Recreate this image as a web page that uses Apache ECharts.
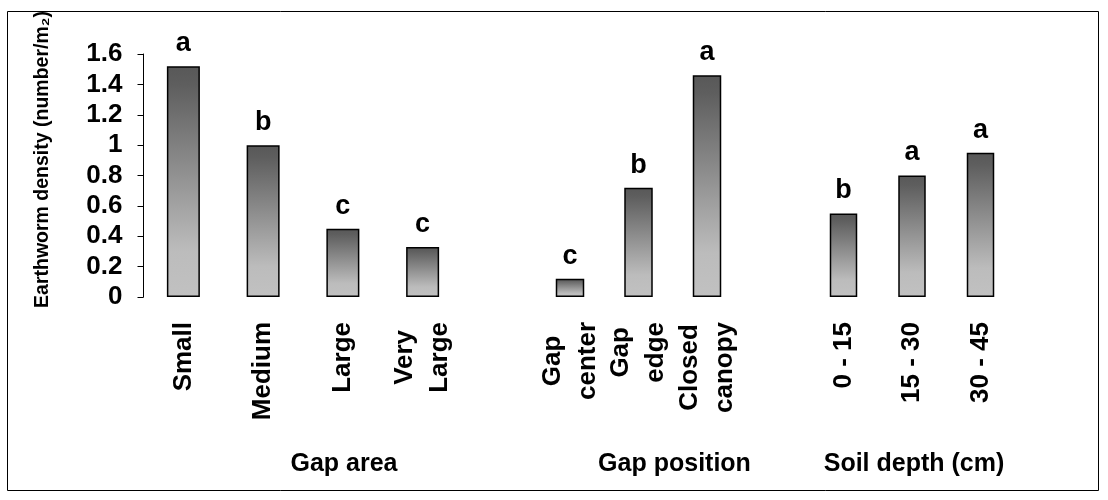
<!DOCTYPE html>
<html><head><meta charset="utf-8">
<script src="https://cdn.jsdelivr.net/npm/echarts@6/dist/echarts.min.js"></script>
<style>html,body{margin:0;padding:0;background:#fff}#c{width:1108px;height:500px}</style>
</head><body><div id="c"></div>
<script>
// ---- data ----
const areaCats = ['Small', 'Medium', 'Large', 'Very\nLarge'];
const areaVals = [1.52, 1.00, 0.45, 0.33];
const areaSig = ['a', 'b', 'c', 'c'];
const posCats = ['Gap\ncenter', 'Gap\nedge', 'Closed\ncanopy'];
const posVals = [0.12, 0.72, 1.46];
const posSig = ['c', 'b', 'a'];
const depthCats = ['0 - 15', '15 - 30', '30 - 45'];
const depthVals = [0.55, 0.80, 0.95];
const depthSig = ['b', 'a', 'a'];
const groupTitles = ['Gap area', 'Gap position', 'Soil depth (cm)'];
const yTitle = 'Earthworm density (number/m\u2082)';
const yMin = 0, yMax = 1.6, yStep = 0.2;

// ---- chart ----
const FONT = '"Liberation Sans", Arial, sans-serif';
const chart = echarts.init(document.getElementById('c'), null, {renderer: 'canvas'});
const groups = [
  {cats: areaCats, vals: areaVals, sig: areaSig, grid: {left: 143.5, width: 319}, barWidth: 33, titlePad: [0, 0, 0, 82]},
  {cats: posCats, vals: posVals, sig: posSig, grid: {left: 535.75, width: 205.5}, barWidth: 28.5, titlePad: [0, 0, 0, 72]},
  {cats: depthCats, vals: depthVals, sig: depthSig, grid: {left: 809.25, width: 205.5}, barWidth: 27.5, titlePad: [0, 0, 0, 4]}
];
const grad = () => new echarts.graphic.LinearGradient(0, 0, 0, 1, [
  {offset: 0, color: '#585858'},
  {offset: 0.08, color: '#5e5e5e'},
  {offset: 0.8, color: '#bcbcbc'},
  {offset: 1, color: '#c1c1c1'}
]);
const option = {
  animation: false,
  backgroundColor: '#fff',
  graphic: [{
    type: 'rect', shape: {x: 7.5, y: 11.5, width: 1091, height: 479},
    style: {fill: 'none', stroke: '#000', lineWidth: 1}, silent: true, z: 100
  }],
  grid: groups.map(g => ({left: g.grid.left, width: g.grid.width, top: 54, bottom: 203, containLabel: false})),
  xAxis: groups.map((g, i) => ({
    type: 'category', gridIndex: i, data: g.cats, boundaryGap: true,
    axisLine: {show: false}, axisTick: {show: false}, splitLine: {show: false},
    axisLabel: {
      interval: 0, rotate: 90, margin: 25,
      formatter: v => v.split('\n').map(s => '{c|' + s + '}').join('\n'),
      rich: {c: {fontSize: 26, fontWeight: 'bold', fontFamily: FONT, color: '#000', lineHeight: 35, align: 'center'}}
    },
    name: groupTitles[i], nameLocation: 'middle', nameGap: 155,
    nameTextStyle: {fontSize: 25, fontWeight: 'bold', fontFamily: FONT, color: '#000', padding: g.titlePad}
  })),
  yAxis: groups.map((g, i) => ({
    type: 'value', gridIndex: i, min: yMin, max: yMax, interval: yStep,
    show: i === 0,
    axisLine: {show: true, lineStyle: {color: '#000', width: 1}},
    axisTick: {show: true, length: 6, lineStyle: {color: '#000', width: 1}},
    splitLine: {show: false},
    axisLabel: {fontSize: 26, fontWeight: 'bold', fontFamily: FONT, color: '#000', margin: 21},
    name: i === 0 ? yTitle : '', nameLocation: 'middle', nameRotate: 90, nameGap: 91,
    nameTextStyle: {fontSize: 19.5, fontWeight: 'bold', fontFamily: FONT, color: '#000', padding: [0, 0, 0, 32]}
  })),
  series: groups.map((g, i) => ({
    type: 'bar', xAxisIndex: i, yAxisIndex: i, data: g.vals, barWidth: g.barWidth,
    itemStyle: {color: grad(), borderColor: '#000', borderWidth: 1.5},
    label: {
      show: true, position: 'top', distance: 9,
      formatter: p => g.sig[p.dataIndex],
      fontSize: 27, fontWeight: 'bold', fontFamily: FONT, color: '#000'
    }
  }))
};
chart.setOption(option);
</script>
</body></html>
